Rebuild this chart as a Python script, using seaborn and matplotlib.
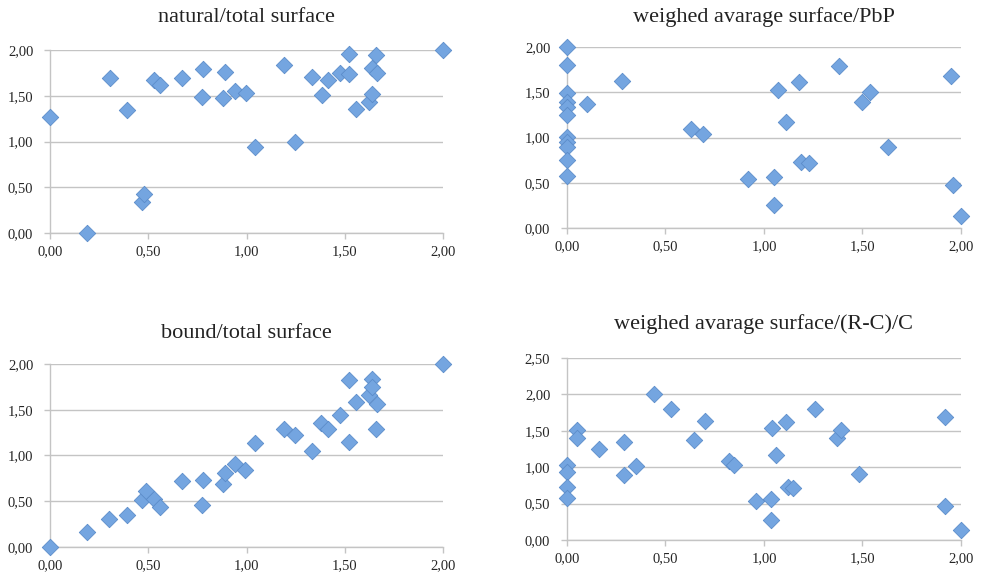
import numpy as np
import pandas as pd
import seaborn as sns
from matplotlib import pyplot as plt

sns.set_style("white")
plt.rcParams['font.family'] = ['Liberation Serif', 'DejaVu Serif']

# shared x values (natural / bound panels)
x_nat = [0.00, 0.19, 0.305, 0.39, 0.47, 0.48, 0.53, 0.56, 0.67, 0.78, 0.775, 0.88, 0.89, 0.94, 0.995,
         1.045, 1.19, 1.245, 1.33, 1.385, 1.415, 1.475, 1.52, 1.52, 1.555, 1.62, 1.64, 1.64, 1.66, 1.665, 2.00]
y_nat = [1.27, 0.00, 1.69, 1.34, 0.34, 0.43, 1.67, 1.62, 1.69, 1.79, 1.49, 1.48, 1.76, 1.55, 1.53,
         0.94, 1.84, 1.00, 1.71, 1.51, 1.67, 1.75, 1.96, 1.74, 1.36, 1.43, 1.52, 1.80, 1.95, 1.75, 2.00]

x_bound = [0.00, 0.19, 0.30, 0.39, 0.47, 0.49, 0.53, 0.56, 0.67, 0.78, 0.775, 0.88, 0.89, 0.94, 0.99,
           1.045, 1.19, 1.245, 1.33, 1.38, 1.415, 1.475, 1.52, 1.52, 1.555, 1.62, 1.64, 1.64, 1.66, 1.665, 2.00]
y_bound = [0.00, 0.16, 0.31, 0.35, 0.51, 0.61, 0.52, 0.44, 0.72, 0.73, 0.46, 0.69, 0.81, 0.91, 0.84,
           1.14, 1.29, 1.22, 1.05, 1.35, 1.29, 1.44, 1.83, 1.15, 1.59, 1.66, 1.84, 1.75, 1.29, 1.56, 2.00]

x_pbp = [0, 0, 0, 0, 0, 0, 0, 0, 0, 0, 0, 0.10, 0.28, 0.63, 0.69, 0.92, 1.05, 1.05, 1.07, 1.11,
         1.18, 1.19, 1.23, 1.38, 1.50, 1.54, 1.63, 1.95, 1.96, 2.00]
y_pbp = [2.00, 1.80, 1.49, 1.39, 1.34, 1.25, 1.01, 0.95, 0.90, 0.75, 0.58, 1.37, 1.62, 1.09, 1.04, 0.54,
         0.56, 0.25, 1.53, 1.17, 1.61, 0.73, 0.72, 1.79, 1.39, 1.50, 0.90, 1.68, 0.47, 0.13]

x_rc = [0, 0, 0, 0, 0.05, 0.05, 0.16, 0.29, 0.29, 0.35, 0.44, 0.53, 0.645, 0.70, 0.82, 0.85, 0.96,
        1.035, 1.035, 1.04, 1.06, 1.11, 1.12, 1.145, 1.26, 1.37, 1.39, 1.48, 1.92, 1.92, 2.00]
y_rc = [1.03, 0.94, 0.73, 0.57, 1.51, 1.40, 1.25, 1.35, 0.89, 1.01, 2.01, 1.80, 1.38, 1.63, 1.08, 1.03,
        0.54, 0.56, 0.27, 1.54, 1.17, 1.62, 0.73, 0.71, 1.80, 1.40, 1.51, 0.91, 1.69, 0.47, 0.14]

panels = [
    ("natural/total surface", x_nat, y_nat, 2.0, [0.0509, 0.5976, 0.400, 0.316], 20),
    ("weighed avarage surface/PbP", x_pbp, y_pbp, 2.0, [0.5768, 0.6062, 0.4008, 0.3126], 18),
    ("bound/total surface", x_bound, y_bound, 2.0, [0.0509, 0.0553, 0.400, 0.316], 19),
    ("weighed avarage surface/(R-C)/C", x_rc, y_rc, 2.5, [0.5768, 0.0674, 0.4008, 0.3143], 21),
]

fig = plt.figure(figsize=(9.83, 5.79), dpi=100)

for title, xs, ys, ymax, pos, tpad in panels:
    ax = fig.add_axes(pos)
    df = pd.DataFrame({"x": xs, "y": ys})
    sns.scatterplot(data=df, x="x", y="y", ax=ax, marker="D", s=70,
                    color="#74a5e0", edgecolor="#5b8cca", linewidth=0.6,
                    clip_on=False, zorder=3)
    ax.set_xlim(0, 2)
    ax.set_ylim(0, ymax)
    ax.set_xticks(np.arange(0, 2.01, 0.5))
    ax.set_yticks(np.arange(0, ymax + 0.01, 0.5))
    ax.set_xticklabels([f"{v:.2f}".replace(".", ",") for v in ax.get_xticks()])
    ax.set_yticklabels([f"{v:.2f}".replace(".", ",") for v in ax.get_yticks()])
    ax.set_xlabel("")
    ax.set_ylabel("")
    ax.yaxis.grid(True, color="#c4c4c4", linewidth=1.0)
    ax.set_axisbelow(True)
    for s in ["top", "right"]:
        ax.spines[s].set_visible(False)
    for s in ["left", "bottom"]:
        ax.spines[s].set_color("#c4c4c4")
        ax.spines[s].set_linewidth(1.0)
    ax.tick_params(axis="both", direction="out", length=4, width=1.0,
                   color="#c4c4c4", labelsize=10.5, labelcolor="#262626")
    ax.tick_params(axis="x", pad=5, bottom=True)
    ax.tick_params(axis="y", pad=8, left=True)
    ax.set_title(title, fontsize=16, color="#222222", pad=tpad)

fig.savefig("out.png", dpi=100)
